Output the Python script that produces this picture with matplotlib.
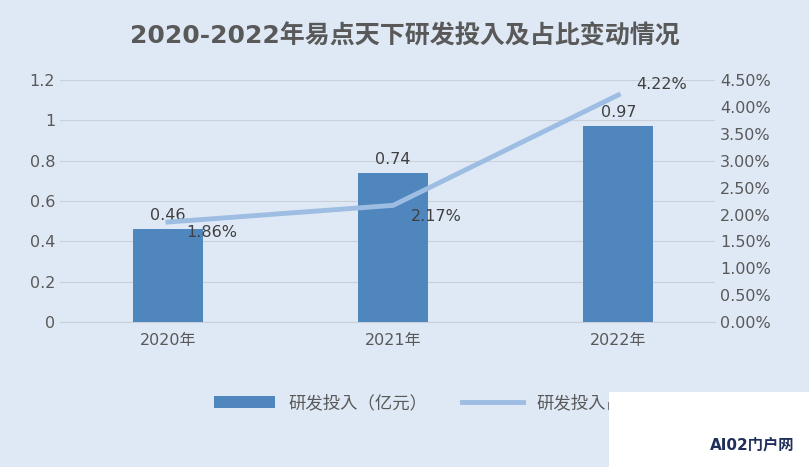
import matplotlib.pyplot as plt
import matplotlib.patches as mpatches
from matplotlib import font_manager

cjk = [f.name for f in font_manager.fontManager.ttflist if 'CJK' in f.name]
plt.rcParams['font.family'] = ['DejaVu Sans'] + (['Noto Sans CJK SC'] if 'Noto Sans CJK SC' in cjk else sorted(set(cjk))[:1])

years = ['2020年', '2021年', '2022年']
spend = [0.46, 0.74, 0.97]
ratio = [1.86, 2.17, 4.22]

fig = plt.figure(figsize=(8.09, 4.67), dpi=100)
fig.patch.set_facecolor('#dfe9f5')
ax = fig.add_axes([0.074, 0.310, 0.810, 0.519])
ax.set_facecolor('none')
x = range(len(years))
ax.bar(x, spend, width=0.31, color='#4f86bd', label='研发投入（亿元）', zorder=3)
for i, v in enumerate(spend):
    ax.text(i, v + 0.03, f'{v:g}', ha='center', va='bottom', fontsize=11.5, color='#404040', zorder=5)
ax.set_ylim(0, 1.2)
ax.set_yticks([0, 0.2, 0.4, 0.6, 0.8, 1.0, 1.2])
ax.set_yticklabels(['0', '0.2', '0.4', '0.6', '0.8', '1', '1.2'])
ax.set_xlim(-0.48, 2.43)
ax.set_xticks(list(x))
ax.set_xticklabels(years)
ax.grid(axis='y', color='#c8d0da', linewidth=0.8, zorder=0)
for s in ax.spines.values():
    s.set_visible(False)
ax.spines['bottom'].set_visible(True)
ax.spines['bottom'].set_color('#c8d0da')
ax.tick_params(length=0, labelsize=11.5, colors='#595959')
ax.tick_params(axis='x', pad=8)

ax2 = ax.twinx()
ax2.plot(list(x), ratio, color='#9dbde3', linewidth=3.5, label='研发投入占比', zorder=4)
for i, v in enumerate(ratio):
    ax2.text(i + 0.08, v - 0.2 if i < 2 else v + 0.05, f'{v:.2f}%', ha='left', va='center' if i < 2 else 'bottom',
             fontsize=11.5, color='#404040')
ax2.set_ylim(0, 4.5)
ax2.set_yticks([i * 0.5 for i in range(10)])
ax2.set_yticklabels([f'{i * 0.5:.2f}%' for i in range(10)])
for s in ax2.spines.values():
    s.set_visible(False)
ax2.tick_params(length=0, labelsize=11.5, colors='#595959')

fig.text(0.5, 0.922, '2020-2022年易点天下研发投入及占比变动情况', ha='center', va='center',
         fontsize=18, fontweight='bold', color='#595959')

h1, l1 = ax.get_legend_handles_labels()
h2, l2 = ax2.get_legend_handles_labels()
fig.legend(h1 + h2, l1 + l2, loc='center left', bbox_to_anchor=(0.245, 0.137), ncol=2, frameon=False,
           fontsize=12.5, labelcolor='#595959', handlelength=3.5, columnspacing=2.0)

fig.patches.append(mpatches.Rectangle((0.753, 0), 0.247, 0.16, transform=fig.transFigure,
                                      facecolor='white', edgecolor='none', zorder=10))
fig.text(0.93, 0.03, 'AI02门户网', ha='center', va='bottom', fontsize=11, fontweight='bold',
         color='#1f2f5a', zorder=11)

fig.savefig('out.png', dpi=100, facecolor=fig.get_facecolor())
